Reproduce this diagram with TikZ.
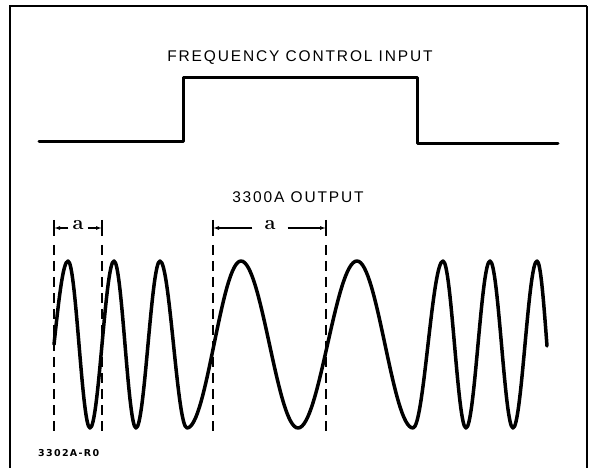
\documentclass[tikz,border=0pt]{standalone}
\usepackage{fontspec}
\setsansfont{Liberation Sans}
\newfontfamily\letterfont[LetterSpace=12]{Liberation Sans}
\newfontfamily\stampfont[LetterSpace=14]{DejaVu Sans}
\usepackage{tikz}
\usetikzlibrary{arrows.meta}
\tikzset{
  signal/.style={line width=3.5pt, line join=round, line cap=round},
  step signal/.style={line width=3pt, line join=round, line cap=round},
  marker/.style={dashed, dash pattern=on 10pt off 6pt, line width=1.1pt},
  dimtick/.style={line width=1.1pt},
  dimarrow/.style={-{Latex[length=6pt,width=4pt]}, line width=1.1pt},
  caption/.style={font=\letterfont\fontsize{15.5}{17}\selectfont, inner sep=0pt},
  dimlabel/.style={font=\bfseries\fontsize{20}{22}\selectfont, inner sep=0pt}
}

\begin{document}
\begin{tikzpicture}[x=1pt,y=-1pt]
            \useasboundingbox (0,0) rectangle (590,468);
            % frame (open at the bottom)
            \draw[line width=2pt] (10,468) -- (10,6) -- (587,6);
            \draw[line width=2.5pt] (587,6) -- (587,468);

            % input signal
            \node[caption] (fci) at (300,57.5) {FREQUENCY CONTROL INPUT};
            \draw[step signal] (39,142) -- (183,142) -- (183,78) -- (417,78) -- (417,144) -- (558,144);

            % output signal
            \node[caption] (out) at (298,197) {3300A OUTPUT};
            \draw[signal] (54,344.5) sin (68,261) cos (79,344.5) sin (90,428) cos (102,344.5)
              sin (114,261) cos (125,344.5) sin (136,428) cos (148,344.5)
              sin (160,261) cos (173.5,344.5) sin (187,428) cos (214,344.5)
              sin (241,261) cos (269.5,344.5) sin (298,428) cos (327.5,344.5)
              sin (357,261) cos (385,344.5) sin (413,428) cos (428,344.5)
              sin (443,261) cos (454.5,344.5) sin (466,428) cos (478,344.5)
              sin (490,261) cos (501.5,344.5) sin (513,428) cos (525,344.5)
              sin (537,261) cos (547,346);

            % period markers
            \draw[marker] (54,245) -- (54,437);
            \draw[marker] (102,245) -- (102,437);
            \draw[marker] (213,245) -- (213,437);
            \draw[marker] (326,245) -- (326,437);
            \coordinate (t1) at (54,228);
            \coordinate (t2) at (102,228);
            \coordinate (t3) at (213,228);
            \coordinate (t4) at (326,228);
            \draw[dimtick] (54,220) -- (54,236);
            \draw[dimtick] (102,220) -- (102,236);
            \draw[dimtick] (213,220) -- (213,236);
            \draw[dimtick] (326,220) -- (326,236);
            \node[dimlabel, inner xsep=4pt] (a1) at (78,225) {a};
            \node[dimlabel, inner xsep=12pt] (a2) at (270,225) {a};
            \draw[dimarrow] (a1.west |- t1) -- (t1);
            \draw[dimarrow] (a1.east |- t2) -- (t2);
            \draw[dimarrow] (a2.west |- t3) -- (t3);
            \draw[dimarrow] (a2.east |- t4) -- (t4);

            % drawing number
            \node[font=\stampfont\bfseries\fontsize{9.5}{11}\selectfont, anchor=west, inner sep=0pt] (dno) at (38,453) {3302A-R0};
\end{tikzpicture}
\end{document}
